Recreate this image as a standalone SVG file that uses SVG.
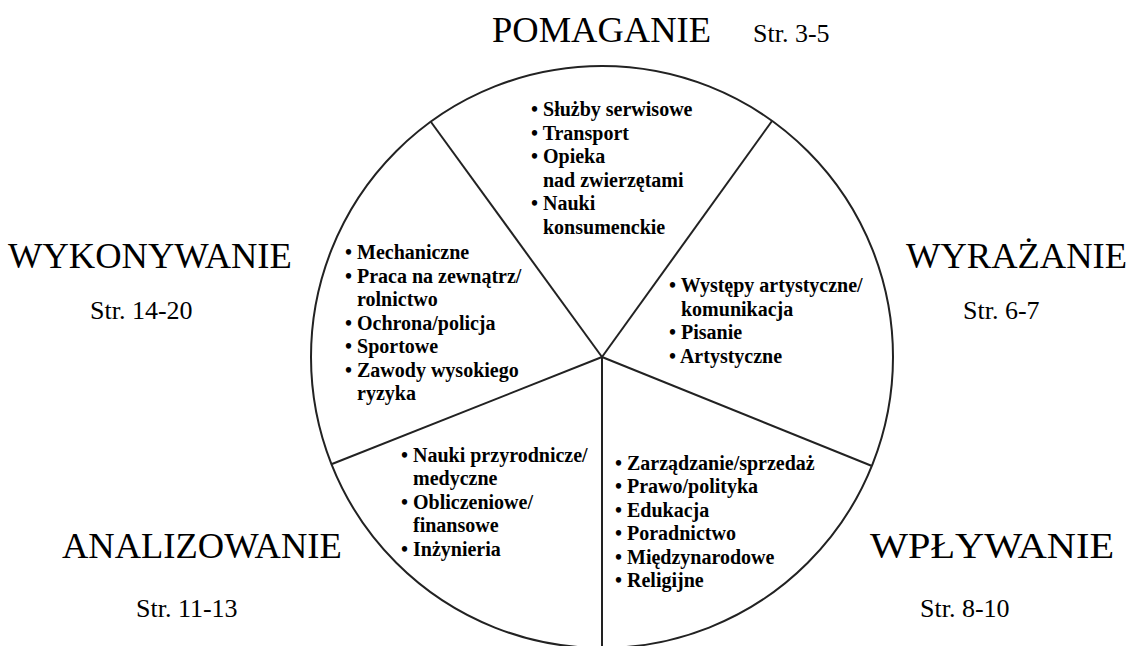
<svg xmlns="http://www.w3.org/2000/svg" width="1128" height="646" viewBox="0 0 1128 646">
<style>
.t{font-family:"Liberation Serif","Times New Roman",serif;fill:#000}
.h{font-size:36.5px}
.p{font-size:26px}
.l{font-size:20px;font-weight:bold}
.s{stroke:#222;stroke-width:2;fill:none}
</style>
<rect width="1128" height="646" fill="#fff"/>
<circle class="s" cx="602" cy="357" r="291"/>
<g id="connectors">
<line class="s" x1="602" y1="357" x2="431" y2="122"/>
<line class="s" x1="602" y1="357" x2="772" y2="121"/>
<line class="s" x1="602" y1="357" x2="332" y2="464"/>
<line class="s" x1="602" y1="357" x2="872" y2="466"/>
<line class="s" x1="602" y1="357" x2="602" y2="648"/>
</g>
<g id="pomaganie">
<text class="t h" x="492" y="42">POMAGANIE</text>
<text class="t p" x="753" y="42">Str. 3-5</text>
<text class="t l"><tspan x="531" y="116">• Służby serwisowe</tspan><tspan x="531" y="139.5">• Transport</tspan><tspan x="531" y="163">• Opieka</tspan><tspan x="543" y="186.5">nad zwierzętami</tspan><tspan x="531" y="210">• Nauki</tspan><tspan x="543" y="233.5">konsumenckie</tspan></text>
</g>
<g id="wykonywanie">
<text class="t h" x="8" y="268">WYKONYWANIE</text>
<text class="t p" x="90" y="319">Str. 14-20</text>
<text class="t l"><tspan x="345" y="259">• Mechaniczne</tspan><tspan x="345" y="282.5">• Praca na zewnątrz/</tspan><tspan x="357" y="306">rolnictwo</tspan><tspan x="345" y="329.5">• Ochrona/policja</tspan><tspan x="345" y="353">• Sportowe</tspan><tspan x="345" y="376.5">• Zawody wysokiego</tspan><tspan x="357" y="400">ryzyka</tspan></text>
</g>
<g id="wyrazanie">
<text class="t h" x="906" y="268">WYRAŻANIE</text>
<text class="t p" x="963" y="319">Str. 6-7</text>
<text class="t l"><tspan x="669" y="292">• Występy artystyczne/</tspan><tspan x="681" y="315.5">komunikacja</tspan><tspan x="669" y="339">• Pisanie</tspan><tspan x="669" y="362.5">• Artystyczne</tspan></text>
</g>
<g id="analizowanie">
<text class="t h" x="62" y="558">ANALIZOWANIE</text>
<text class="t p" x="136" y="617">Str. 11-13</text>
<text class="t l"><tspan x="401" y="461.5">• Nauki przyrodnicze/</tspan><tspan x="413" y="485">medyczne</tspan><tspan x="401" y="508.5">• Obliczeniowe/</tspan><tspan x="413" y="532">finansowe</tspan><tspan x="401" y="555.5">• Inżynieria</tspan></text>
</g>
<g id="wplywanie">
<text class="t h" x="870" y="558" textLength="244" lengthAdjust="spacingAndGlyphs">WPŁYWANIE</text>
<text class="t p" x="920" y="617">Str. 8-10</text>
<text class="t l"><tspan x="615" y="470">• Zarządzanie/sprzedaż</tspan><tspan x="615" y="493.4">• Prawo/polityka</tspan><tspan x="615" y="516.8">• Edukacja</tspan><tspan x="615" y="540.2">• Poradnictwo</tspan><tspan x="615" y="563.6">• Międzynarodowe</tspan><tspan x="615" y="587">• Religijne</tspan></text>
</g>
</svg>
